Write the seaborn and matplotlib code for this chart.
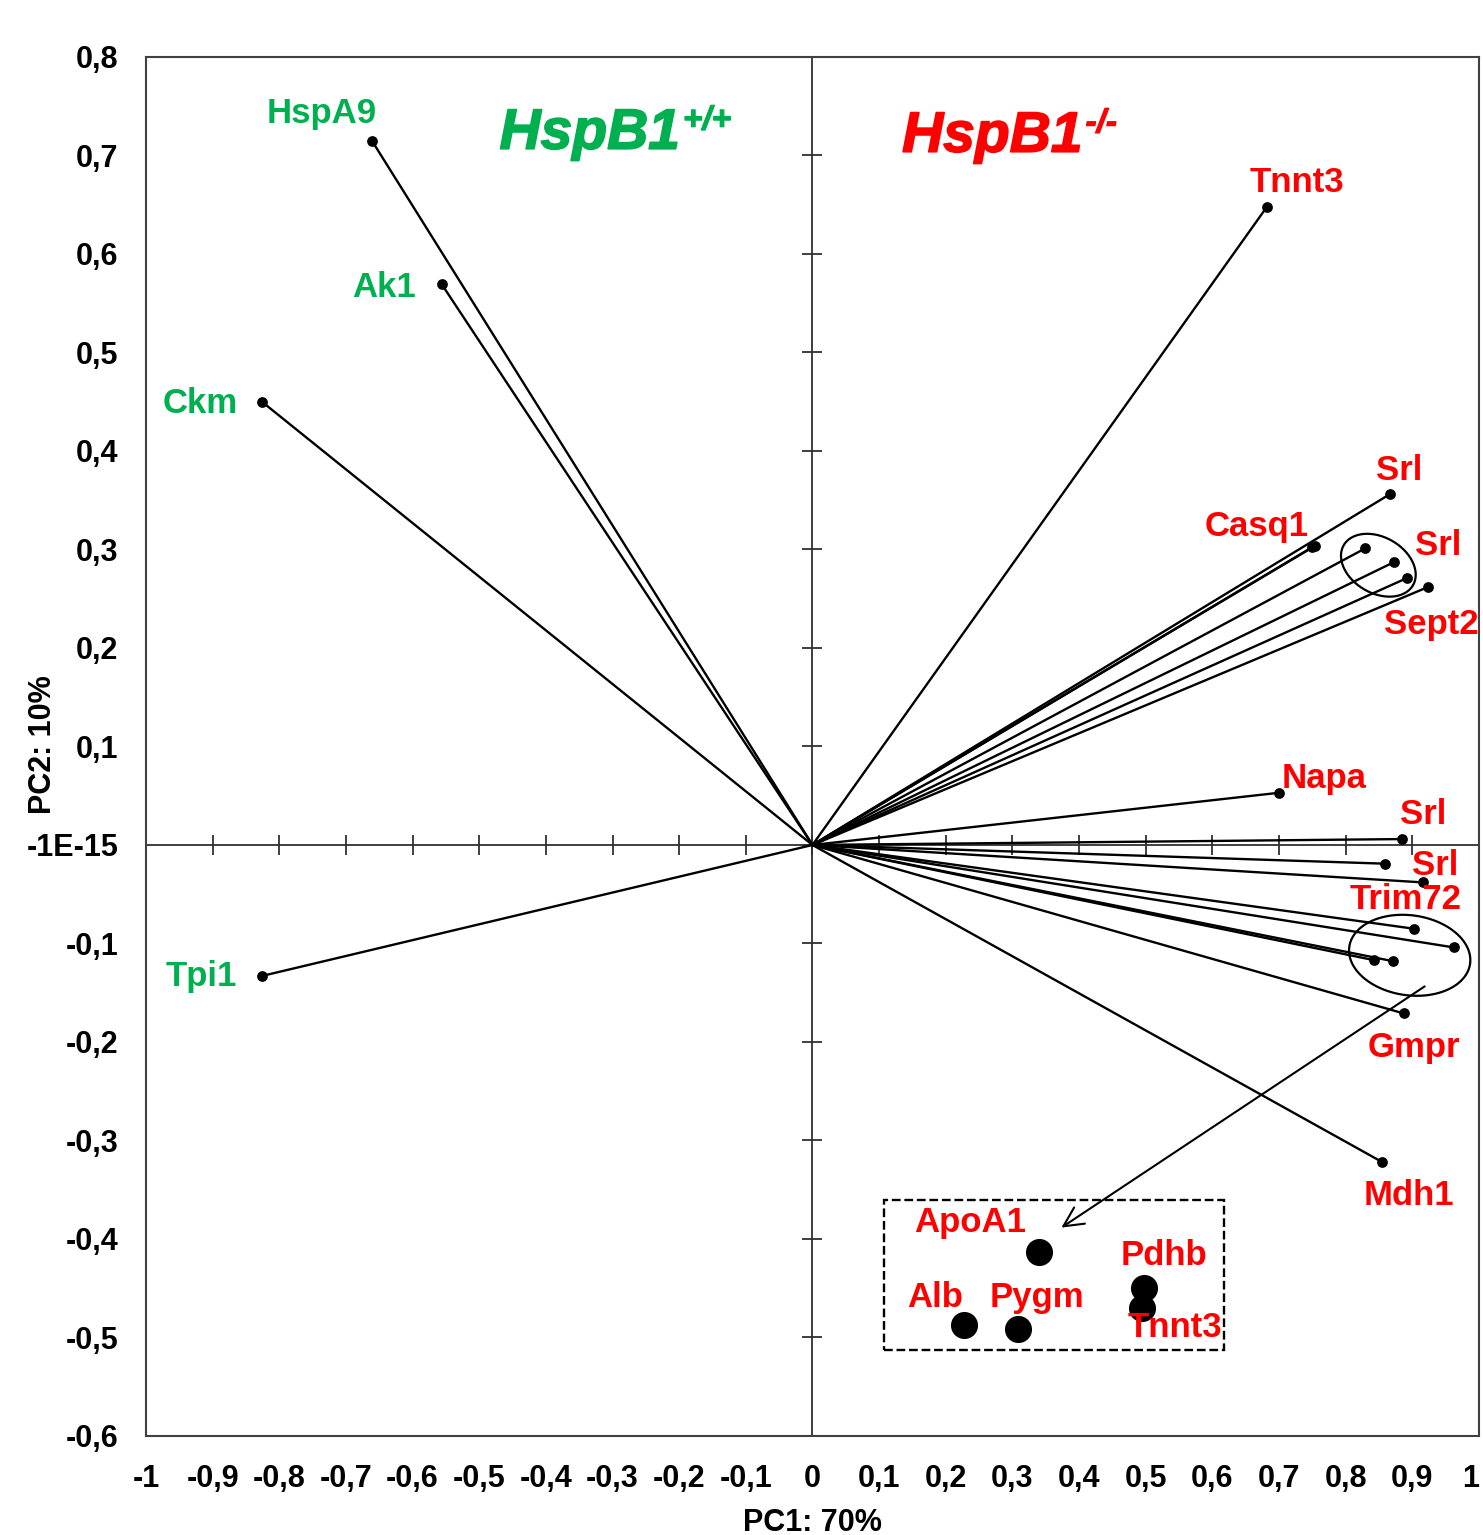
import matplotlib
matplotlib.use("Agg")
import matplotlib.pyplot as plt
import matplotlib.patheffects as pe
from matplotlib.patches import Rectangle
import seaborn as sns
import numpy as np

# variable loadings on PC1 / PC2 (one vector per protein spot)
load_pc1 = [-0.661, -0.556, -0.826, -0.826, 0.682, 0.866, 0.754, 0.750, 0.829, 0.872, 0.892, 0.924,
            0.700, 0.884, 0.859, 0.916, 0.902, 0.962, 0.843, 0.871, 0.887, 0.855]
load_pc2 = [0.715, 0.569, 0.450, -0.133, 0.648, 0.356, 0.304, 0.302, 0.301, 0.287, 0.271, 0.262,
            0.053, 0.006, -0.019, -0.038, -0.085, -0.104, -0.117, -0.118, -0.171, -0.322]

# spots shown inside the dashed box
score_names = ["ApoA1", "Pdhb", "Tnnt3", "Alb", "Pygm"]
score_pc1 = [0.340, 0.497, 0.494, 0.227, 0.308]
score_pc2 = [-0.413, -0.450, -0.470, -0.487, -0.491]

# gene labels next to the vectors
label_text = ["HspA9", "Ak1", "Ckm", "Tpi1", "Tnnt3", "Srl", "Casq1", "Srl", "Sept2",
              "Napa", "Srl", "Srl", "Trim72", "Gmpr", "Mdh1"]
label_group = ["wt"] * 4 + ["ko"] * 11

# label anchor points (data units)
label_x = [-0.737, -0.643, -0.919, -0.917, 0.727, 0.880, 0.667, 0.939, 0.928,
           0.767, 0.916, 0.934, 0.890, 0.902, 0.895]
label_y = [0.743, 0.566, 0.448, -0.134, 0.673, 0.380, 0.323, 0.304, 0.224,
           0.067, 0.031, -0.021, -0.055, -0.206, -0.356]
score_label_x = [0.236, 0.527, 0.544, 0.184, 0.337]
score_label_y = [-0.383, -0.417, -0.490, -0.459, -0.459]

xticks = np.round(np.arange(-1.0, 1.01, 0.1), 1)
yticks = np.round(np.arange(-0.6, 0.81, 0.1), 1)

GREEN = "#00B050"
RED = "#FF0000"
colors = {"wt": GREEN, "ko": RED}

sns.set_theme(style="white")
plt.rcParams['font.family'] = ['Liberation Sans', 'DejaVu Sans']
plt.rcParams['font.weight'] = 'bold'

fig = plt.figure(figsize=(14.83, 15.35), dpi=100)
ax = fig.add_axes([0.0984, 0.0645, 0.8989, 0.8984])
ax.set_xlim(-1, 1)
ax.set_ylim(-0.6, 0.8)

# zero axes with crossing tick marks
ax.axhline(0, color='#303030', lw=1.3, zorder=1)
ax.axvline(0, color='#303030', lw=1.3, zorder=1)
ax.plot(xticks, np.zeros_like(xticks), ls='none', marker='|', ms=14, mew=1.3, color='#303030', zorder=1)
ax.plot(np.zeros_like(yticks), yticks, ls='none', marker='_', ms=15, mew=1.3, color='#303030', zorder=1)

# vectors from the origin
for x, y in zip(load_pc1, load_pc2):
    ax.plot([0, x], [0, y], color='black', lw=1.7, zorder=2)
sns.scatterplot(x=load_pc1, y=load_pc2, color='black', s=60, linewidth=0, ax=ax, zorder=3)
sns.scatterplot(x=score_pc1, y=score_pc2, color='black', s=380, linewidth=0, ax=ax, zorder=3)

for t, g, x, y in zip(label_text, label_group, label_x, label_y):
    ax.text(x, y, t, color=colors[g], fontsize=25, fontweight='bold', ha='center', va='center', zorder=4)
for t, x, y in zip(score_names, score_label_x, score_label_y):
    ax.text(x, y, t, color=RED, fontsize=25, fontweight='bold', ha='center', va='center', zorder=4)

# group headings
for xh, yh, col, sup in [(-0.334, 0.722, GREEN, "+/+"), (0.270, 0.719, RED, "-/-")]:
    th = ax.text(xh, yh, "HspB1", color=col, fontsize=41, fontweight='bold',
                 style='italic', ha='center', va='center',
                 path_effects=[pe.withStroke(linewidth=1.2, foreground=col)])
    ax.annotate(sup, xy=(1, 1), xycoords=th, xytext=(2, 1), textcoords='offset points',
                color=col, fontsize=24, fontweight='bold', style='italic', ha='left', va='top',
                path_effects=[pe.withStroke(linewidth=0.8, foreground=col)])


def draw_ellipse(cx, cy, a_px, b_px, angle_deg):
    sx = ax.bbox.width / 2.0
    sy = ax.bbox.height / 1.4
    t = np.linspace(0, 2 * np.pi, 200)
    th = np.radians(angle_deg)
    dx = a_px * np.cos(t) * np.cos(th) - b_px * np.sin(t) * np.sin(th)
    dy = a_px * np.cos(t) * np.sin(th) + b_px * np.sin(t) * np.cos(th)
    ax.plot(cx + dx / sx, cy + dy / sy, color='black', lw=1.6, zorder=2)


draw_ellipse(0.849, 0.284, 40, 28, -30)
draw_ellipse(0.896, -0.112, 61, 40, -8)

ax.add_patch(Rectangle((0.107, -0.513), 0.510, 0.153, fill=False, ls='--', lw=1.7,
                       edgecolor='black', zorder=2))
ax.annotate("", xy=(0.370, -0.390), xytext=(0.922, -0.142),
            arrowprops=dict(arrowstyle='->', lw=1.5, color='black', mutation_scale=35))

# axis ticks and labels
ax.set_xticks(xticks)
ax.set_yticks(yticks)
ax.set_xticklabels(["0" if v == 0 else (str(int(v)) if v == int(v) else f"{v:.1f}".replace('.', ','))
                    for v in xticks])
ax.set_yticklabels(["-1E-15" if v == 0 else f"{v:.1f}".replace('.', ',') for v in yticks])
ax.tick_params(axis='both', length=0, labelsize=22, colors='black')
ax.tick_params(axis='x', pad=20)
ax.tick_params(axis='y', pad=20)
for lab in ax.get_xticklabels() + ax.get_yticklabels():
    lab.set_fontweight('bold')
ax.get_xticklabels()[-1].set_horizontalalignment('right')

ax.set_xlabel("PC1: 70%", fontsize=22, fontweight='bold', color='black')
ax.set_ylabel("PC2: 10%", fontsize=22, fontweight='bold', color='black')
ax.xaxis.set_label_coords(0.5, -0.052)
ax.yaxis.set_label_coords(-0.066, 0.501)

for sp in ax.spines.values():
    sp.set_color('#404040')
    sp.set_linewidth(1.5)
ax.grid(False)

fig.savefig("out.png", dpi=100)
